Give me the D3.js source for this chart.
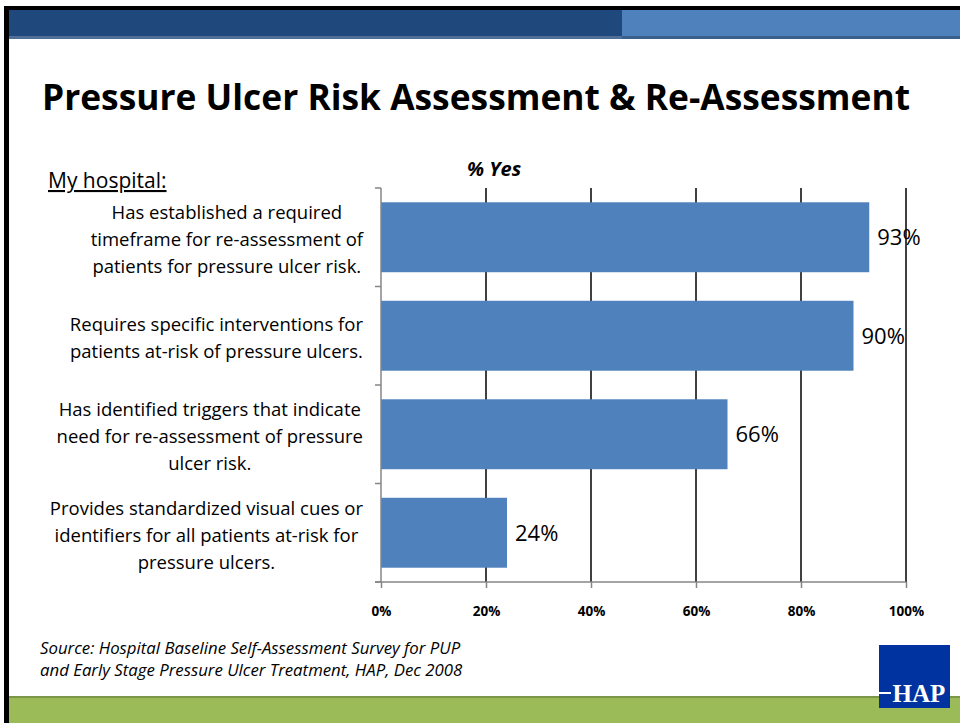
<!DOCTYPE html>
<html>
<head>
<meta charset="utf-8">
<script src="https://cdn.jsdelivr.net/npm/d3@7"></script>
<style>
  html, body { margin:0; padding:0; background:#fff; }
  svg { display:block; font-family: "Open Sans", Lato, sans-serif; }
</style>
</head>
<body>
<div id="chart"></div>
<script>
// data
const CATEGORIES = [
  ["Has established a required", "timeframe for re-assessment of", "patients for pressure ulcer risk."],
  ["Requires specific interventions for", "patients at-risk of pressure ulcers."],
  ["Has identified triggers that indicate", "need for re-assessment of pressure", "ulcer risk."],
  ["Provides standardized visual cues or", "identifiers for all patients at-risk for", "pressure ulcers."]
];
const VALUES = [93, 90, 66, 24];
const X_TICKS = [0, 20, 40, 60, 80, 100];

const TITLE = "Pressure Ulcer Risk Assessment & Re-Assessment";
const SOURCE = [
  "Source: Hospital Baseline Self-Assessment Survey for PUP",
  "and Early Stage Pressure Ulcer Treatment, HAP, Dec 2008"
];

const W = 960, H = 723;
const svg = d3.select("#chart").append("svg")
  .attr("width", W).attr("height", H);

// ── slide frame ──────────────────────────────────────────────
svg.append("rect").attr("x", 0).attr("y", 0).attr("width", W).attr("height", H).attr("fill", "#fff");
svg.append("rect").attr("x", 9).attr("y", 10).attr("width", 613).attr("height", 26).attr("fill", "#1F497D");
svg.append("rect").attr("x", 9).attr("y", 36).attr("width", 613).attr("height", 3).attr("fill", "#4F6F99");
svg.append("rect").attr("x", 622).attr("y", 10).attr("width", W - 622).attr("height", 26).attr("fill", "#4F81BD");
svg.append("rect").attr("x", 622).attr("y", 36).attr("width", W - 622).attr("height", 3).attr("fill", "#3B5F8C");
svg.append("rect").attr("x", 4).attr("y", 6).attr("width", W - 4).attr("height", 4).attr("fill", "#000");
svg.append("rect").attr("x", 4).attr("y", 6).attr("width", 5).attr("height", H - 6).attr("fill", "#000");
svg.append("rect").attr("x", 9).attr("y", 698).attr("width", W - 9).attr("height", H - 698).attr("fill", "#9BBB59");
svg.append("rect").attr("x", 9).attr("y", 696).attr("width", W - 9).attr("height", 2).attr("fill", "#7A9646");

svg.append("text")
  .attr("x", 42).attr("y", 110)
  .attr("textLength", 868).attr("lengthAdjust", "spacingAndGlyphs")
  .style("font-size", "35px").style("font-weight", "bold").style("fill", "#000")
  .text(TITLE);

// ── chart ───────────────────────────────────────────────────
const x = d3.scaleLinear().domain([0, 100]).range([381, 906]);
const y = d3.scaleBand().domain(d3.range(VALUES.length)).range([188, 582]).paddingInner(0.29).paddingOuter(0.145);
const yb = d3.scaleBand().domain(d3.range(VALUES.length)).range([188, 582]);

const g = svg.append("g");

// gridlines
g.append("g").selectAll("line")
  .data(X_TICKS.slice(1))
  .enter().append("line")
  .attr("x1", d => x(d)).attr("x2", d => x(d))
  .attr("y1", 188).attr("y2", 582)
  .attr("stroke", "#000").attr("stroke-width", 1.5);

// bars
g.append("g").selectAll("rect")
  .data(VALUES)
  .enter().append("rect")
  .attr("x", x(0))
  .attr("y", (d, i) => y(i))
  .attr("width", d => x(d) - x(0))
  .attr("height", y.bandwidth())
  .attr("fill", "#4F81BD");

// value labels
g.append("g").selectAll("text")
  .data(VALUES)
  .enter().append("text")
  .attr("x", d => x(d) + 8)
  .attr("y", (d, i) => y(i) + y.bandwidth() / 2 + 8)
  .style("font-size", "22px").style("fill", "#000")
  .text(d => d + "%");

// y axis
const yAxis = g.append("g").attr("transform", "translate(381,0)");
yAxis.append("line").attr("x1", 0).attr("x2", 0).attr("y1", 188).attr("y2", 582)
  .attr("stroke", "#868686").attr("stroke-width", 1.5);
yAxis.selectAll("line.tk")
  .data(d3.range(VALUES.length + 1))
  .enter().append("line").attr("class", "tk")
  .attr("x1", -6).attr("x2", 0)
  .attr("y1", d => d < VALUES.length ? yb(d) : 582)
  .attr("y2", d => d < VALUES.length ? yb(d) : 582)
  .attr("stroke", "#868686").attr("stroke-width", 1.5);

// x axis
const xAxis = g.append("g").attr("transform", "translate(0,582)")
  .call(d3.axisBottom(x).tickValues(X_TICKS).tickSize(6).tickFormat(d => d + "%"));
xAxis.select(".domain").attr("stroke", "#868686").attr("stroke-width", 1.5)
  .attr("d", `M${x(0) - 6},0H${x(100)}`);
xAxis.selectAll(".tick line").attr("stroke", "#868686").attr("stroke-width", 1.5);
xAxis.selectAll(".tick text")
  .attr("y", 24)
  .style("font-family", "'Open Sans', sans-serif")
  .style("font-size", "13.5px").style("font-weight", "bold").style("fill", "#000");

// category labels (each block centered, widest line right-aligned at 363)
CATEGORIES.forEach((lines, i) => {
  const t = g.append("text")
    .style("font-size", "18.5px").style("fill", "#000")
    .attr("text-anchor", "middle");
  const lh = 27;
  const cy = yb(i) + yb.bandwidth() / 2 + 3;
  lines.forEach((ln, j) => {
    t.append("tspan").attr("y", cy + (j - (lines.length - 1) / 2) * lh + 6).text(ln);
  });
  let maxW = 0;
  t.selectAll("tspan").each(function() { maxW = Math.max(maxW, this.getComputedTextLength()); });
  t.selectAll("tspan").attr("x", 363 - maxW / 2);
});

// headers
svg.append("text").attr("x", 494).attr("y", 176).attr("text-anchor", "middle")
  .style("font-size", "20px").style("font-weight", "bold").style("font-style", "italic")
  .text("% Yes");
svg.append("text").attr("x", 48).attr("y", 188)
  .style("font-size", "21px").style("text-decoration", "underline")
  .text("My hospital:");

// source
svg.append("g").selectAll("text")
  .data(SOURCE)
  .enter().append("text")
  .attr("x", 40).attr("y", (d, i) => 654 + i * 22)
  .style("font-size", "16.8px").style("font-style", "italic").style("fill", "#000")
  .text(d => d);

// HAP logo
const logo = svg.append("g").attr("transform", "translate(879,645)");
logo.append("rect").attr("width", 71).attr("height", 63).attr("fill", "#0033A0");
logo.append("text").attr("x", 40).attr("y", 57).attr("text-anchor", "middle")
  .style("font-family", "'Liberation Serif', serif").style("font-size", "25px").style("font-weight", "bold")
  .style("fill", "#fff").text("HAP");
logo.append("rect").attr("x", 0).attr("y", 47).attr("width", 12).attr("height", 2).attr("fill", "#fff");
</script>
</body>
</html>
